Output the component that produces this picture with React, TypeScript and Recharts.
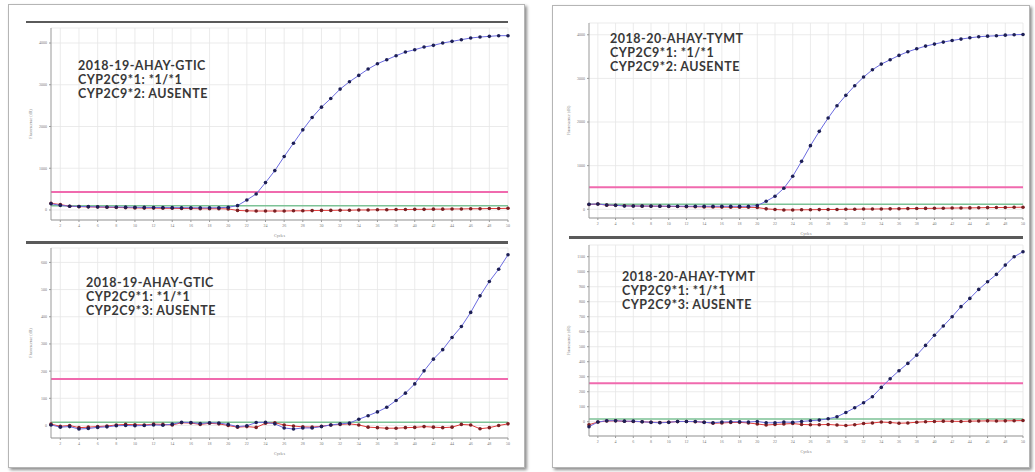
import { LineChart, Line, XAxis, YAxis, CartesianGrid, ReferenceLine } from "recharts";

// cycles 1..50
const cycles = [
  1, 2, 3, 4, 5, 6, 7, 8, 9, 10, 11, 12, 13, 14, 15, 16, 17, 18, 19, 20, 21, 22, 23, 24, 25,
  26, 27, 28, 29, 30, 31, 32, 33, 34, 35, 36, 37, 38, 39, 40, 41, 42, 43, 44, 45, 46, 47, 48, 49, 50,
];
const cycleTicks = [2, 4, 6, 8, 10, 12, 14, 16, 18, 20, 22, 24, 26, 28, 30, 32, 34, 36, 38, 40, 42, 44, 46, 48, 50];

// 2018-19 CYP2C9*2
const ltBlue = [
  150, 110, 90, 85, 80, 75, 72, 70, 68, 65, 62, 60, 58, 56, 55, 54, 52, 52, 55, 64, 104, 240, 384, 656, 944,
  1280, 1600, 1920, 2216, 2464, 2672, 2896, 3072, 3224, 3376, 3504, 3600, 3696, 3784, 3840, 3904, 3944, 4000, 4040, 4080,
  4120, 4144, 4160, 4176, 4176,
];
const ltRed = [
  160, 130, 90, 80, 75, 70, 65, 60, 55, 50, 45, 45, 40, 40, 35, 35, 30, 30, 30, 25, -10, -20, -25, -25, -25,
  -25, -20, -20, -15, -10, -10, -5, -5, 0, 0, 5, 5, 10, 10, 15, 15, 20, 20, 25, 25, 30, 30, 35, 35, 40,
];
const ltTicks = [0, 1000, 2000, 3000, 4000];

// 2018-19 CYP2C9*3
const lbBlue = [
  2, -6, -4, -13, -11, -7, -5, -1, 0, -1, 0, 2, 1, 5, 12, 11, 7, 10, 9, 4, -4, -1, 11, 12, 6,
  -9, -13, -9, -9, -4, 2, 6, 9, 23, 36, 50, 67, 92, 119, 153, 201, 244, 279, 324, 364, 416, 477, 530, 575, 628,
];
const lbRed = [
  5, -3, 0, -8, -6, -4, -2, 2, 4, 3, 2, 5, 4, 2, 10, 9, 4, 8, 6, 0, -6, -4, -7, 8, 10,
  2, -2, -5, -6, -3, 2, 4, 6, 2, -6, -8, -10, -10, -8, -7, -4, -6, -8, -6, 4, 2, -12, -8, 0, 6,
];
const lbTicks = [0, 100, 200, 300, 400, 500, 600];

// 2018-20 CYP2C9*2
const rtBlue = [
  115, 122, 99, 92, 76, 75, 74, 73, 72, 72, 71, 70, 70, 69, 69, 69, 69, 69, 69, 84, 183, 298, 481, 756, 1099,
  1458, 1786, 2092, 2374, 2611, 2832, 3031, 3198, 3328, 3427, 3527, 3611, 3679, 3740, 3786, 3832, 3870, 3901, 3931, 3954,
  3969, 3977, 3992, 4000, 4008,
];
const rtRed = [
  110, 120, 95, 90, 80, 75, 72, 70, 68, 65, 62, 60, 58, 55, 52, 50, 48, 45, 45, 40, 10, -5, -15, -15, -12,
  -10, -8, -5, -5, 0, 0, 5, 5, 8, 10, 12, 15, 18, 20, 22, 25, 28, 30, 32, 35, 38, 40, 42, 45, 48,
];
const rtTicks = [0, 1000, 2000, 3000, 4000];

// 2018-20 CYP2C9*3
const rbBlue = [
  -33, -2, 7, 7, 4, 4, 0, -4, -7, -4, 2, 2, 2, -4, -7, -2, 0, 0, -2, 2, -7, -7, -2, -4, 2,
  7, 11, 20, 33, 62, 93, 127, 167, 229, 287, 340, 389, 444, 509, 576, 638, 700, 767, 822, 882,
  933, 982, 1044, 1100, 1133,
];
const rbRed = [
  -20, -2, 5, 6, 3, 2, 0, -3, -5, -3, 1, 2, 0, -3, -10, -8, -5, -4, -8, -15, -22, -18, -15, -12, -18,
  -20, -20, -18, -22, -25, -20, -12, -8, -2, -5, -10, -8, -3, 0, 2, 4, 3, 2, 4, 5, 6, 5, 6, 7, 8,
];
const rbTicks = [0, 100, 200, 300, 400, 500, 600, 700, 800, 900, 1000, 1100];

const labelFont = "Lato, 'Open Sans', sans-serif";

type AmpProps = {
  x0: number;
  x1: number;
  y0: number;
  y1: number;
  domain: [number, number];
  ticks: number[];
  blue: number[];
  red: number[];
  threshold: number;
  base: number;
  lines: string[];
  tx: number;
  ty: number;
};

function Amp({ x0, x1, y0, y1, domain, ticks, blue, red, threshold, base, lines, tx, ty }: AmpProps) {
  const data = cycles.map((c, i) => ({ cycle: c, a: blue[i], b: red[i] }));
  const tickStyle = { fontSize: 4, fill: "#777" };
  return (
    <>
      <div style={{ position: "absolute", left: x0 - 30, top: y0 - 5 }}>
        <LineChart
          width={x1 - x0 + 35}
          height={y1 - y0 + 25}
          data={data}
          margin={{ top: 5, right: 5, left: 0, bottom: 0 }}
        >
          <CartesianGrid stroke="#e6e6e6" strokeWidth={0.8} verticalValues={cycleTicks} />
          <XAxis
            dataKey="cycle"
            type="number"
            domain={[1, 50]}
            ticks={cycleTicks}
            interval={0}
            height={20}
            tick={tickStyle}
            tickSize={2}
            stroke="#999"
            label={{ value: "Cycles", position: "insideBottom", offset: 3, fontSize: 4, fill: "#777" }}
          />
          <YAxis
            type="number"
            domain={domain}
            ticks={ticks}
            interval={0}
            width={30}
            tick={tickStyle}
            tickSize={2}
            stroke="#999"
            allowDataOverflow
            label={{
              value: "Fluorescence (dR)",
              angle: -90,
              position: "insideLeft",
              offset: 10,
              fontSize: 4,
              fill: "#777",
              style: { textAnchor: "middle" },
            }}
          />
          <ReferenceLine y={threshold} stroke="#f06aae" strokeWidth={2} />
          <ReferenceLine y={base} stroke="#7cc296" strokeWidth={1.5} />
          <Line
            dataKey="b"
            stroke="#e23a3a"
            strokeWidth={1}
            dot={{ r: 1.8, fill: "#7a1f22", stroke: "none" }}
            isAnimationActive={false}
          />
          <Line
            dataKey="a"
            stroke="#6b6be0"
            strokeWidth={1}
            dot={{ r: 1.8, fill: "#1d1f55", stroke: "none" }}
            isAnimationActive={false}
          />
        </LineChart>
      </div>
      <div
        style={{
          position: "absolute",
          left: tx,
          top: ty,
          fontFamily: labelFont,
          fontWeight: 700,
          fontSize: 12.5,
          letterSpacing: 0.5,
          lineHeight: "14px",
          color: "#383838",
          whiteSpace: "nowrap",
        }}
      >
        {lines.map((l) => (
          <div key={l}>{l}</div>
        ))}
      </div>
    </>
  );
}

const card = {
  position: "absolute" as const,
  background: "#fff",
  border: "1px solid #b5b5b5",
  boxShadow: "2px 2px 3px rgba(0,0,0,0.45)",
};

export default function App() {
  return (
    <div style={{ position: "absolute", left: 0, top: 0, width: 1035, height: 472, background: "#fff", overflow: "hidden" }}>
      <div style={{ ...card, left: 8, top: 4, width: 515, height: 462 }} />
      <div style={{ ...card, left: 552, top: 5, width: 476, height: 461 }} />
      <div style={{ position: "absolute", left: 26, top: 21, width: 482, height: 2, background: "#5a5a5a" }} />
      <div style={{ position: "absolute", left: 26, top: 241, width: 482, height: 3, background: "#5a5a5a" }} />
      <div style={{ position: "absolute", left: 569, top: 236, width: 454, height: 3, background: "#5a5a5a" }} />
      <Amp
        x0={51}
        x1={508}
        y0={28}
        y1={220}
        domain={[-240, 4360]}
        ticks={ltTicks}
        blue={ltBlue}
        red={ltRed}
        threshold={430}
        base={100}
        lines={["2018-19-AHAY-GTIC", "CYP2C9*1: *1/*1", "CYP2C9*2: AUSENTE"]}
        tx={78}
        ty={59}
      />
      <Amp
        x0={51}
        x1={508}
        y0={248}
        y1={438}
        domain={[-46, 653]}
        ticks={lbTicks}
        blue={lbBlue}
        red={lbRed}
        threshold={171}
        base={12}
        lines={["2018-19-AHAY-GTIC", "CYP2C9*1: *1/*1", "CYP2C9*3: AUSENTE"]}
        tx={86}
        ty={276}
      />
      <Amp
        x0={589}
        x1={1023}
        y0={23}
        y1={218}
        domain={[-200, 4270]}
        ticks={rtTicks}
        blue={rtBlue}
        red={rtRed}
        threshold={504}
        base={115}
        lines={["2018-20-AHAY-TYMT", "CYP2C9*1: *1/*1", "CYP2C9*2: AUSENTE"]}
        tx={610}
        ty={32}
      />
      <Amp
        x0={589}
        x1={1023}
        y0={245}
        y1={436}
        domain={[-95, 1178]}
        ticks={rbTicks}
        blue={rbBlue}
        red={rbRed}
        threshold={256}
        base={18}
        lines={["2018-20-AHAY-TYMT", "CYP2C9*1: *1/*1", "CYP2C9*3: AUSENTE"]}
        tx={622}
        ty={270}
      />
    </div>
  );
}
